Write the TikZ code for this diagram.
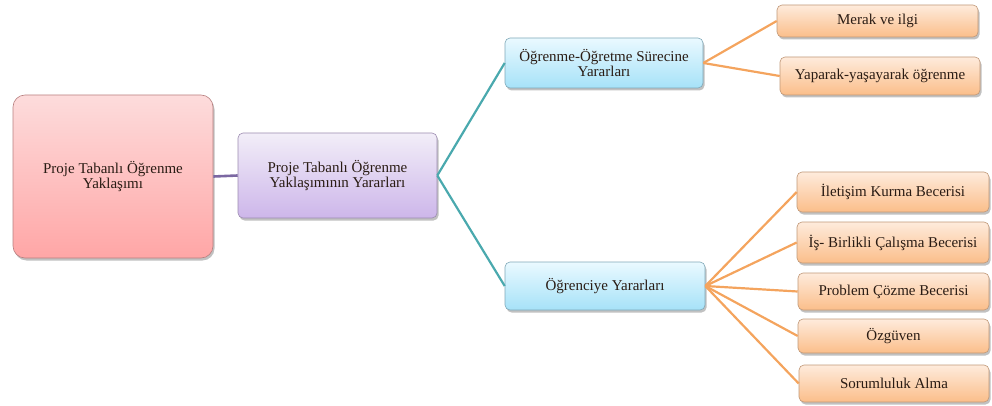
\documentclass[tikz,border=0pt]{standalone}
\usepackage{fontspec}
\setmainfont{Liberation Serif}
\usetikzlibrary{shadows}
\definecolor{txt}{HTML}{2A1C14}
\definecolor{rootT}{HTML}{FDDCDC}
\definecolor{rootB}{HTML}{FFA6A6}
\definecolor{rootD}{HTML}{B88080}
\definecolor{purT}{HTML}{F2EEF8}
\definecolor{purB}{HTML}{CDB6EA}
\definecolor{purD}{HTML}{9C8CB0}
\definecolor{bluT}{HTML}{EAF9FF}
\definecolor{bluB}{HTML}{A6E2F8}
\definecolor{bluD}{HTML}{7FA8B8}
\definecolor{orT}{HTML}{FEEBDC}
\definecolor{orB}{HTML}{FBBE8A}
\definecolor{orD}{HTML}{C09878}
\definecolor{lnPur}{HTML}{7B67A2}
\definecolor{lnTeal}{HTML}{4AA9AE}
\definecolor{lnOr}{HTML}{F4A45E}
\tikzset{
  box/.style={rectangle, rounded corners=5pt, align=center, text=txt,
    font=\fontsize{15}{13.5}\selectfont, inner sep=2pt, line width=0.6pt,
    shading=axis, shading angle=0,
    drop shadow={shadow xshift=1.5pt, shadow yshift=-2.5pt, opacity=0.35, fill=black!70}},
  rootbox/.style={box, rounded corners=12pt, draw=rootD, top color=rootT, bottom color=rootB},
  purbox/.style={box, draw=purD, top color=purT, bottom color=purB},
  blubox/.style={box, draw=bluD, top color=bluT, bottom color=bluB},
  orbox/.style={box, draw=orD, top color=orT, bottom color=orB},
  lnA/.style={draw=lnPur, line width=2.6pt},
  lnB/.style={draw=lnTeal, line width=2.2pt},
  lnC/.style={draw=lnOr, line width=2.2pt},
}
\begin{document}
\begin{tikzpicture}[x=1pt,y=-1pt]
\useasboundingbox (0,0) rectangle (992,406);
% hierarchy boxes
\node[rootbox, minimum width=200pt, minimum height=163pt] (root) at (113,176.5)
  {Proje Tabanlı Öğrenme\\Yaklaşımı};
\node[purbox, minimum width=199pt, minimum height=85pt] (ben) at (337.5,175.5)
  {Proje Tabanlı Öğrenme\\Yaklaşımının Yararları};
\node[blubox, minimum width=198pt, minimum height=50pt] (proc) at (604,63)
  {Öğrenme-Öğretme Sürecine\\Yararları};
\node[blubox, minimum width=200pt, minimum height=48pt] (stud) at (605,286)
  {Öğrenciye Yararları};
\node[orbox, minimum width=201pt, minimum height=32pt] (o1) at (877.5,21) {Merak ve ilgi};
\node[orbox, minimum width=200pt, minimum height=38pt] (o2) at (880,76) {Yaparak-yaşayarak öğrenme};
\node[orbox, minimum width=192pt, minimum height=40pt] (s1) at (893,192) {İletişim Kurma Becerisi};
\node[orbox, minimum width=192pt, minimum height=41pt] (s2) at (893,242.5) {İş- Birlikli Çalışma Becerisi};
\node[orbox, minimum width=191pt, minimum height=37pt] (s3) at (893.5,291.5) {Problem Çözme Becerisi};
\node[orbox, minimum width=191pt, minimum height=34pt] (s4) at (893.5,336) {Özgüven};
\node[orbox, minimum width=190pt, minimum height=37pt] (s5) at (894,383.5) {Sorumluluk Alma};
% connectors
\draw[lnA] (root.east) -- (ben.west);
\draw[lnB] (ben.east) -- (proc.west);
\draw[lnB] (ben.east) -- (stud.west);
\foreach \t in {o1,o2} \draw[lnC] (proc.east) -- (\t.west);
\foreach \t in {s1,s2,s3,s4,s5} \draw[lnC] (stud.east) -- (\t.west);
\end{tikzpicture}
\end{document}
